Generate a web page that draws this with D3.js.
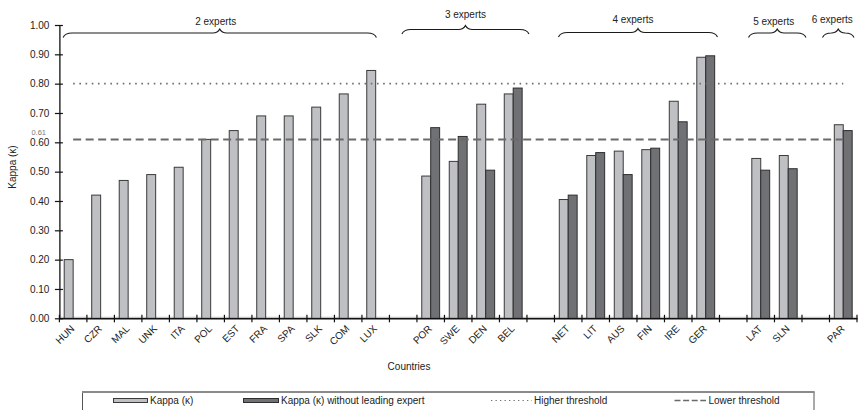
<!DOCTYPE html>
<html><head><meta charset="utf-8">
<script src="https://cdn.jsdelivr.net/npm/d3@7"></script>
<style>
body{margin:0;background:#fff;}
svg{display:block;font-family:"Liberation Sans",Arial,sans-serif;}
</style></head>
<body><svg id="chart" width="864" height="410"></svg>
<script>
// ---- data ----
const categories = ["HUN","CZR","MAL","UNK","ITA","POL","EST","FRA","SPA","SLK","COM","LUX","",
  "POR","SWE","DEN","BEL","","NET","LIT","AUS","FIN","IRE","GER","","LAT","SLN","","PAR"];
const kappa = [0.20,0.42,0.47,0.49,0.515,0.61,0.64,0.69,0.69,0.72,0.765,0.845,null,
  0.485,0.535,0.73,0.765,null,0.405,0.555,0.57,0.575,0.74,0.89,null,0.545,0.555,null,0.66];
const kappaNoLead = [0,0,0,0,0,0,0,0,0,0,0,0,null,
  0.65,0.62,0.505,0.785,null,0.42,0.565,0.49,0.58,0.67,0.895,null,0.505,0.51,null,0.64];
const yTicks = [0,0.1,0.2,0.3,0.4,0.5,0.6,0.7,0.8,0.9,1.0];
const higherThreshold = 0.80;
const lowerThreshold = 0.61;
const groupLabels = ["2 experts","3 experts","4 experts","5 experts","6 experts"];
const groupFirst = ["HUN","POR","NET","LAT","PAR"];
const groupLast  = ["LUX","BEL","GER","SLN","PAR"];
const seriesNames = ["Kappa (\u03ba)","Kappa (\u03ba) without leading expert","Higher threshold","Lower threshold"];
const yTitle = "Kappa (\u03ba)";
const xTitle = "Countries";

// ---- layout ----
const svg = d3.select("#chart");
const x = d3.scaleBand().domain(d3.range(categories.length)).range([59.4, 857]).paddingInner(0).paddingOuter(0);
const y = d3.scaleLinear().domain([0,1]).range([318.3, 25]);
const bw = x.bandwidth();
const barW = bw*0.325;
const barOff = (bw - 2*barW)/2;
const LIGHT = "#bfc0c4", DARK = "#707175", OUTL = "#3a3a3a";

// baseline gray (zero-height bars)
svg.append("line").attr("x1",x(0)).attr("x2",857).attr("y1",y(0)-1).attr("y2",y(0)-1)
  .attr("stroke","#b8b8b8").attr("stroke-width",1);

// bars
const g = svg.append("g");
g.selectAll("rect.k").data(kappa.map((v,i)=>({v,i})).filter(d=>d.v!==null && d.v>0))
  .join("rect").attr("class","k")
  .attr("x",d=>x(d.i)+barOff).attr("width",barW)
  .attr("y",d=>y(d.v)).attr("height",d=>y(0)-y(d.v))
  .attr("fill",LIGHT).attr("stroke",OUTL).attr("stroke-width",1);
g.selectAll("rect.n").data(kappaNoLead.map((v,i)=>({v,i})).filter(d=>d.v!==null && d.v>0))
  .join("rect").attr("class","n")
  .attr("x",d=>x(d.i)+barOff+barW).attr("width",barW)
  .attr("y",d=>y(d.v)).attr("height",d=>y(0)-y(d.v))
  .attr("fill",DARK).attr("stroke","#2e2e2e").attr("stroke-width",1);

// thresholds
const lx1 = x(0)+bw/2, lx2 = x(categories.length-1)+bw/2;
svg.append("line").attr("x1",lx1).attr("x2",lx2).attr("y1",y(higherThreshold)).attr("y2",y(higherThreshold))
  .attr("stroke","#6f6f6f").attr("stroke-width",1.6).attr("stroke-dasharray","1.6,4.6");
svg.append("line").attr("x1",lx1).attr("x2",lx2).attr("y1",y(lowerThreshold)).attr("y2",y(lowerThreshold))
  .attr("stroke","#6a6a6a").attr("stroke-width",2).attr("stroke-dasharray","8,4.5");

// y axis
const yAxis = d3.axisLeft(y).tickValues(yTicks).tickFormat(d3.format(".2f")).tickSize(4).tickSizeOuter(0);
const ya = svg.append("g").attr("transform","translate(59.4,0)").call(yAxis);
ya.select(".domain").attr("stroke","#111").attr("stroke-width",1.3);
ya.selectAll(".tick line").attr("stroke","#111").attr("stroke-width",1.2).attr("x2",3.5).attr("x1",-4.5);
ya.selectAll(".tick text").attr("x",-10).attr("font-size",10).attr("fill","#222")
  .attr("font-family","Liberation Sans, Arial, sans-serif");
svg.append("text").attr("x",46).attr("y",135.2).attr("text-anchor","end")
  .attr("font-size",7.5).attr("fill","#7a7a7a").text(d3.format(".2f")(lowerThreshold));

// x axis
const xa = svg.append("g").attr("transform",`translate(0,${y(0)})`)
  .call(d3.axisBottom(x).tickSize(0).tickFormat(i=>categories[i]));
xa.select(".domain").attr("stroke","#111").attr("stroke-width",1.5);
xa.selectAll(".tick text").attr("y",0).attr("dy",0).attr("x",0)
  .attr("text-anchor","end").attr("font-size",10).attr("fill","#222")
  .attr("font-family","Liberation Sans, Arial, sans-serif")
  .attr("transform","translate(2,11) rotate(-45)");
svg.append("g").selectAll("line").data(d3.range(categories.length+1)).join("line")
  .attr("x1",i=>x.range()[0]+i*x.step()).attr("x2",i=>x.range()[0]+i*x.step())
  .attr("y1",y(0)-3.5).attr("y2",y(0)+4).attr("stroke","#111").attr("stroke-width",1.2);

// titles
svg.append("text").attr("transform","translate(16,167) rotate(-90)").attr("text-anchor","middle")
  .attr("font-size",10).attr("fill","#222").text(yTitle);
svg.append("text").attr("x",409).attr("y",370).attr("text-anchor","middle")
  .attr("font-size",10).attr("fill","#222").text(xTitle);

// group braces
const braceLayout = [
  {dx0:3.7, dx1:-13, y:33, ty:25, tdx:-4},
  {dx0:-15, dx1:2, y:29.5, ty:17.5, tdx:0},
  {dx0:4, dx1:-2, y:32.5, ty:23, tdx:-5},
  {dx0:1.5, dx1:4, y:33, ty:25, tdx:-3.5},
  {dx0:-7, dx1:-3, y:33, ty:22.5, tdx:-6}
];
function bracePath(x0,x1,yb){
  const m=(x0+x1)/2, h=4.5, p=4;
  return `M${x0},${yb+h} C${x0+1.5},${yb+1} ${x0+4},${yb} ${x0+9},${yb} L${m-7},${yb} C${m-3},${yb} ${m-1.5},${yb-1} ${m},${yb-p}`+
         ` C${m+1.5},${yb-1} ${m+3},${yb} ${m+7},${yb} L${x1-9},${yb} C${x1-4},${yb} ${x1-1.5},${yb+1} ${x1},${yb+h}`;
}
groupLabels.forEach((lab,k)=>{
  const L = braceLayout[k];
  const x0 = x(categories.indexOf(groupFirst[k]))+L.dx0;
  const x1 = x(categories.indexOf(groupLast[k]))+bw+L.dx1;
  svg.append("path").attr("d",bracePath(x0,x1,L.y)).attr("fill","none")
    .attr("stroke","#1a1a1a").attr("stroke-width",1.1);
  svg.append("text").attr("x",(x0+x1)/2+L.tdx).attr("y",L.ty).attr("text-anchor","middle")
    .attr("font-size",10).attr("fill","#222").text(lab);
});

// legend
const lg = svg.append("g");
lg.append("rect").attr("x",82.5).attr("y",392).attr("width",731.5).attr("height",30)
  .attr("fill","none").attr("stroke","#555").attr("stroke-width",1);
lg.append("line").attr("x1",82).attr("x2",814.5).attr("y1",392).attr("y2",392)
  .attr("stroke","#8a8a8a").attr("stroke-width",2);
lg.append("rect").attr("x",113.5).attr("y",398.5).attr("width",34).attr("height",4)
  .attr("fill",LIGHT).attr("stroke",OUTL).attr("stroke-width",1);
lg.append("rect").attr("x",243.5).attr("y",398.5).attr("width",35).attr("height",4)
  .attr("fill",DARK).attr("stroke","#2e2e2e").attr("stroke-width",1);
lg.append("line").attr("x1",491).attr("x2",532).attr("y1",400.5).attr("y2",400.5)
  .attr("stroke","#6f6f6f").attr("stroke-width",1.2).attr("stroke-dasharray","1.3,3.2");
lg.append("line").attr("x1",674.5).attr("x2",706).attr("y1",400.5).attr("y2",400.5)
  .attr("stroke","#6a6a6a").attr("stroke-width",1.5).attr("stroke-dasharray","6,2.6");
const lx = [150, 281, 534, 708.5];
seriesNames.forEach((s,i)=>{
  lg.append("text").attr("x",lx[i]).attr("y",404.3).attr("font-size",10).attr("fill","#222").text(s);
});
</script></body></html>
